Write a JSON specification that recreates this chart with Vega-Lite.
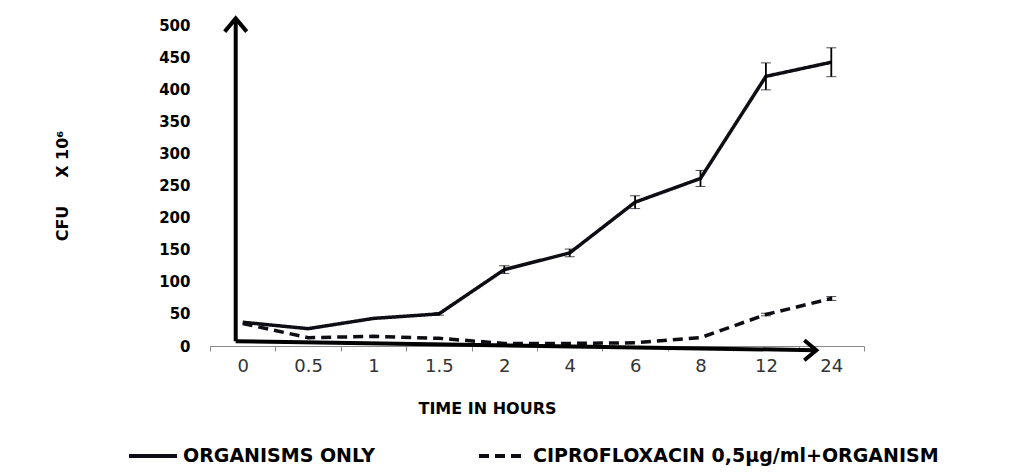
{
  "$schema": "https://vega.github.io/schema/vega-lite/v6.json",
  "autosize": {"type": "none"},
  "width": 654,
  "height": 321,
  "padding": {"left": 210, "top": 25, "right": 146, "bottom": 128},
  "background": "white",
  "config": {
    "view": {"stroke": null},
    "axisY": {
      "titleFont": "DejaVu Sans", "titleFontWeight": "bold", "titleFontSize": 16, "titleColor": "#000",
      "titlePadding": 88, "tickCount": 10, "labelOverlap": false,
      "labelFont": "DejaVu Sans", "labelFontWeight": "bold", "labelFontSize": 15, "labelColor": "#000",
      "labelPadding": 20, "ticks": false, "tickSize": 0, "domain": false, "grid": false
    },
    "axisX": {
      "titleFont": "DejaVu Sans", "titleFontWeight": "bold", "titleFontSize": 16, "titleColor": "#000",
      "titlePadding": 25, "titleX": 277, "titleAnchor": "middle",
      "labelAngle": 0, "labelFont": "DejaVu Sans", "labelFontSize": 18, "labelColor": "#333",
      "labelPadding": 6, "domainColor": "#888", "tickColor": "#888", "tickSize": 5, "tickBand": "extent",
      "grid": false
    }
  },
  "datasets": {
    "cfu": [
      {"time": "0", "series": "ORGANISMS ONLY", "cfu": 37, "err": 0},
      {"time": "0.5", "series": "ORGANISMS ONLY", "cfu": 27, "err": 0},
      {"time": "1", "series": "ORGANISMS ONLY", "cfu": 43, "err": 0},
      {"time": "1.5", "series": "ORGANISMS ONLY", "cfu": 50, "err": 2},
      {"time": "2", "series": "ORGANISMS ONLY", "cfu": 119, "err": 6},
      {"time": "4", "series": "ORGANISMS ONLY", "cfu": 145, "err": 6},
      {"time": "6", "series": "ORGANISMS ONLY", "cfu": 224, "err": 10},
      {"time": "8", "series": "ORGANISMS ONLY", "cfu": 261, "err": 12.5},
      {"time": "12", "series": "ORGANISMS ONLY", "cfu": 420, "err": 21},
      {"time": "24", "series": "ORGANISMS ONLY", "cfu": 442, "err": 22.5},
      {"time": "0", "series": "CIPROFLOXACIN 0,5µg/ml+ORGANISM", "cfu": 35, "err": 0},
      {"time": "0.5", "series": "CIPROFLOXACIN 0,5µg/ml+ORGANISM", "cfu": 13, "err": 0},
      {"time": "1", "series": "CIPROFLOXACIN 0,5µg/ml+ORGANISM", "cfu": 15, "err": 0},
      {"time": "1.5", "series": "CIPROFLOXACIN 0,5µg/ml+ORGANISM", "cfu": 12, "err": 0},
      {"time": "2", "series": "CIPROFLOXACIN 0,5µg/ml+ORGANISM", "cfu": 4, "err": 0},
      {"time": "4", "series": "CIPROFLOXACIN 0,5µg/ml+ORGANISM", "cfu": 4, "err": 0},
      {"time": "6", "series": "CIPROFLOXACIN 0,5µg/ml+ORGANISM", "cfu": 5, "err": 0},
      {"time": "8", "series": "CIPROFLOXACIN 0,5µg/ml+ORGANISM", "cfu": 13, "err": 0},
      {"time": "12", "series": "CIPROFLOXACIN 0,5µg/ml+ORGANISM", "cfu": 49, "err": 2},
      {"time": "24", "series": "CIPROFLOXACIN 0,5µg/ml+ORGANISM", "cfu": 74, "err": 3}
    ],
    "varrow": [{"time": "0", "y": 7.5, "y2": 508, "head": 500}],
    "harrow": [{"time": "0", "time2": "24", "y": 7.5, "y2": -6.5}]
  },
  "layer": [
    {
      "data": {"name": "cfu"},
      "mark": {"type": "line", "strokeWidth": 3.5, "color": "#0d0d14", "clip": false},
      "encoding": {
        "x": {
          "field": "time", "type": "nominal", "title": "TIME IN HOURS",
          "scale": {"domain": ["0", "0.5", "1", "1.5", "2", "4", "6", "8", "12", "24"], "paddingInner": 0, "paddingOuter": 0}
        },
        "y": {
          "field": "cfu", "type": "quantitative",
          "title": "CFU\u00a0\u00a0\u00a0\u00a0\u00a0X\u00a010⁶",
          "scale": {"domain": [0, 500], "nice": false, "zero": true}
        },
        "strokeDash": {
          "field": "series", "type": "nominal",
          "scale": {"domain": ["ORGANISMS ONLY", "CIPROFLOXACIN 0,5µg/ml+ORGANISM"], "range": [[1, 0], [10, 6]]},
          "legend": {
            "title": null, "orient": "none", "direction": "horizontal",
            "legendX": -83, "legendY": 405,
            "symbolType": "stroke", "symbolSize": 2304, "symbolStrokeWidth": 4, "symbolStrokeColor": "#0d0d14",
            "labelFont": "DejaVu Sans", "labelFontWeight": "bold", "labelFontSize": 19, "labelColor": "#000",
            "labelOffset": 4, "columnPadding": 96, "labelLimit": 600
          }
        }
      }
    },
    {
      "data": {"name": "cfu"},
      "transform": [{"filter": "datum.err > 0"}],
      "mark": {"type": "errorbar", "ticks": {"size": 10, "color": "#000", "strokeWidth": 1.8}, "rule": {"color": "#000", "strokeWidth": 1.8}},
      "encoding": {
        "x": {"field": "time", "type": "nominal", "title": "TIME IN HOURS"},
        "y": {"field": "cfu", "type": "quantitative", "title": "CFU\u00a0\u00a0\u00a0\u00a0\u00a0X\u00a010⁶"},
        "yError": {"field": "err"}
      }
    },
    {
      "data": {"name": "varrow"},
      "mark": {"type": "rule", "strokeWidth": 4, "color": "#000", "xOffset": -7, "clip": false},
      "encoding": {
        "x": {"field": "time", "type": "nominal", "title": "TIME IN HOURS"},
        "y": {"field": "y", "type": "quantitative", "title": "CFU\u00a0\u00a0\u00a0\u00a0\u00a0X\u00a010⁶"},
        "y2": {"field": "y2"}
      }
    },
    {
      "data": {"name": "varrow"},
      "mark": {"type": "point", "shape": "M-1,0.6L0,-0.6L1,0.6", "filled": false, "size": 484, "strokeWidth": 4, "color": "#000", "opacity": 1, "xOffset": -7, "clip": false},
      "encoding": {
        "x": {"field": "time", "type": "nominal", "title": "TIME IN HOURS"},
        "y": {"field": "head", "type": "quantitative", "title": "CFU\u00a0\u00a0\u00a0\u00a0\u00a0X\u00a010⁶"}
      }
    },
    {
      "data": {"name": "harrow"},
      "mark": {"type": "rule", "strokeWidth": 4, "color": "#000", "xOffset": -7, "x2Offset": -16, "clip": false},
      "encoding": {
        "x": {"field": "time", "type": "nominal", "title": "TIME IN HOURS"},
        "x2": {"field": "time2"},
        "y": {"field": "y", "type": "quantitative", "title": "CFU\u00a0\u00a0\u00a0\u00a0\u00a0X\u00a010⁶"},
        "y2": {"field": "y2"}
      }
    },
    {
      "data": {"name": "harrow"},
      "mark": {"type": "point", "shape": "M-0.6,-1L0.6,0L-0.6,1", "filled": false, "size": 400, "strokeWidth": 4, "color": "#000", "opacity": 1, "xOffset": -21, "clip": false},
      "encoding": {
        "x": {"field": "time2", "type": "nominal", "title": "TIME IN HOURS"},
        "y": {"field": "y2", "type": "quantitative", "title": "CFU\u00a0\u00a0\u00a0\u00a0\u00a0X\u00a010⁶"}
      }
    }
  ]
}
